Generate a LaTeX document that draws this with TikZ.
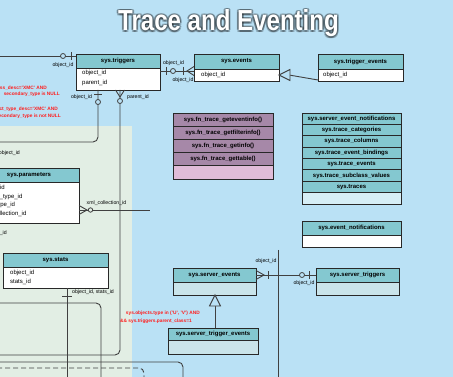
\documentclass[tikz,border=0pt]{standalone}
\usepackage{fontspec}
\setmainfont{Liberation Sans}
\usetikzlibrary{calc}
\definecolor{bgc}{RGB}{186,225,245}
\definecolor{grn}{RGB}{226,238,228}
\definecolor{teal}{RGB}{132,200,208}
\definecolor{lbody}{RGB}{202,228,234}
\definecolor{purp}{RGB}{166,136,168}
\definecolor{pink}{RGB}{224,188,216}
\definecolor{lastrow}{RGB}{214,238,246}
\definecolor{bdr}{RGB}{40,40,40}
\definecolor{linec}{RGB}{64,64,64}
\definecolor{redc}{RGB}{255,30,30}
\tikzset{
  hdr/.style={draw=bdr, line width=0.9pt, fill=teal, inner sep=0pt, outer sep=0pt, anchor=north west, font=\fontsize{6}{7}\selectfont\bfseries},
  bodybox/.style={draw=bdr, line width=0.9pt, fill=white, inner sep=0pt, outer sep=0pt, anchor=north west},
  fld/.style={anchor=west, inner sep=0pt, font=\fontsize{6}{7}\selectfont},
  lbl/.style={inner sep=0pt, font=\fontsize{5.2}{6}\selectfont},
  redt/.style={inner sep=0pt, text=redc, font=\fontsize{4.8}{5.6}\selectfont\bfseries},
  conn/.style={draw=linec, line width=0.9pt},
  oc/.style={draw=linec, line width=0.8pt, fill=bgc},
  ocg/.style={draw=linec, line width=0.8pt, fill=grn},
  tri/.style={draw=linec, line width=0.9pt, fill=bgc},
  ttl/.style={inner sep=0pt, anchor=base, xscale=0.83, font=\fontsize{29}{30}\selectfont\bfseries}
}
\begin{document}
\begin{tikzpicture}[x=1pt,y=-1pt]
\useasboundingbox (0,0) rectangle (453,377);
\clip (0,0) rectangle (453,377);
\fill[bgc] (-2,-2) rectangle (455,379);
\fill[grn] (-2,126) rectangle (132,379);

% title
\foreach \a in {0,45,...,315}{
  \node[ttl, text=black, opacity=0.22] at ($(228.5,31)+(\a:1.8)$) {Trace and Eventing};
}
\node[ttl, text=white] (title) at (228.5,31) {Trace and Eventing};

% sys.triggers
\node[hdr, minimum width=84pt, minimum height=14pt] (trig) at (76,54) {sys.triggers};
\node[bodybox, minimum width=84pt, minimum height=22pt] (trigb) at (76,68) {};
\node[fld] (trigf1) at (82,73) {object\_id};
\node[fld] (trigf2) at (82,83) {parent\_id};

% sys.events
\node[hdr, minimum width=85pt, minimum height=15pt] (evt) at (194,54) {sys.events};
\node[bodybox, minimum width=85pt, minimum height=12pt] (evtb) at (194,69) {};
\node[fld] (evtf1) at (201,75) {object\_id};

% sys.trigger_events
\node[hdr, minimum width=85pt, minimum height=15pt] (tev) at (318,54) {sys.trigger\_events};
\node[bodybox, minimum width=85pt, minimum height=12pt] (tevb) at (318,69) {};
\node[fld] (tevf1) at (323,75) {object\_id};

% functions
\foreach \t [count=\i from 0] in {sys.fn\_trace\_geteventinfo(),sys.fn\_trace\_getfilterinfo(),sys.fn\_trace\_getinfo(),sys.fn\_trace\_gettable()}{
  \node[hdr, fill=purp, minimum width=100pt, minimum height=13.2pt] (fn\i) at (173,113+13.2*\i) {\t};
}
\node[bodybox, fill=pink, minimum width=100pt, minimum height=13.2pt] (fn4) at (173,165.8) {};

% list table
\foreach \t [count=\i from 0] in {sys.server\_event\_notifications,sys.trace\_categories,sys.trace\_columns,sys.trace\_event\_bindings,sys.trace\_events,sys.trace\_subclass\_values,sys.traces}{
  \node[hdr, minimum width=99pt, minimum height=11.375pt] (ls\i) at (302,113+11.375*\i) {\t};
}
\node[bodybox, fill=lastrow, minimum width=99pt, minimum height=11.4pt] (ls7) at (302,192.6) {};

% sys.event_notifications
\node[hdr, minimum width=99pt, minimum height=14pt] (evn) at (302,221) {sys.event\_notifications};
\node[bodybox, minimum width=99pt, minimum height=12pt] (evnb) at (302,235) {};

% sys.parameters
\node[bodybox, minimum width=104pt, minimum height=41pt] (parb) at (-25,182) {};
\node[hdr, minimum width=104pt, minimum height=14pt] (par) at (-25,168) {};
\node[inner sep=0pt, font=\fontsize{6}{7}\selectfont\bfseries] (part) at (29,175) {sys.parameters};
\node[fld] (parf1) at (-19.5,188) {object\_id};
\node[fld] (parf2) at (-19.5,197) {system\_type\_id};
\node[fld] (parf3) at (-19.5,205) {user\_type\_id};
\node[fld] (parf4) at (-19.5,214) {xml\_collection\_id};

% sys.stats
\node[hdr, minimum width=105pt, minimum height=14pt] (sts) at (3,253) {sys.stats};
\node[bodybox, minimum width=105pt, minimum height=21pt] (stsb) at (3,267) {};
\node[fld] (stsf1) at (10,273) {object\_id};
\node[fld] (stsf2) at (10,282) {stats\_id};

% server events
\node[hdr, minimum width=83pt, minimum height=14pt] (sev) at (173,268) {sys.server\_events};
\node[bodybox, fill=lbody, minimum width=83pt, minimum height=13pt] (sevb) at (173,282) {};
\node[hdr, minimum width=83pt, minimum height=14pt] (strg) at (316,268) {sys.server\_triggers};
\node[bodybox, fill=lbody, minimum width=83pt, minimum height=13pt] (strgb) at (316,282) {};
\node[hdr, minimum width=90pt, minimum height=12pt] (stev) at (168,328) {sys.server\_trigger\_events};
\node[bodybox, fill=lbody, minimum width=90pt, minimum height=14pt] (stevb) at (168,340) {};

% free-end coordinates
\coordinate (lfree) at (-3,56);
\coordinate (objfree) at (-3,142);
\coordinate (parfree) at (-3,355);
\coordinate (xmlfree) at (150,210);
\coordinate (stsfree) at (67,379);
\coordinate (g1a) at (-3,303); \coordinate (g1b) at (101,379);
\coordinate (g2a) at (-3,362); \coordinate (g2b) at (183,379);
\coordinate (g3a) at (-3,368); \coordinate (g3b) at (144,379);
\coordinate (v1a) at (278,250); \coordinate (v1b) at (278,379);

% connectors
\draw[conn] (lfree) -- ([yshift=-2pt]trig.north west);
\draw[conn] (71,52) -- (71,60);
\draw[oc] (63,56) circle (2.5);

\draw[conn] ([yshift=-3pt]trigb.north east) -- ([yshift=-2pt]evtb.north west);
\draw[conn] (166,67) -- (166,75);
\draw[oc] (173,71) circle (2.5);
\draw[conn] (183,67) -- (183,75);
\draw[conn] (194,66.5) -- (187,71) -- (194,75.5);

\draw[conn, rounded corners=5pt] ([xshift=22pt]trigb.south west) |- (objfree);
\draw[conn] (94,94) -- (102,94);
\draw[oc] (98,102) circle (2.5);

\draw[conn, rounded corners=5pt] ([xshift=44pt]trigb.south west) -- (120,355) -- (parfree);
\draw[conn] (115.5,90) -- (120,97) -- (124.5,90);
\draw[oc] (120,101) circle (2.5);

\draw[conn] ([yshift=-5pt]tevb.west) -- ([xshift=10pt,yshift=-0pt]evtb.east |- 0,75);
\draw[tri] ([yshift=0pt]evtb.east |- 0,75) -- (290,69.5) -- (290,80.5) -- cycle;

\draw[conn] (parb.east |- 0,210) -- (xmlfree);
\draw[conn] (79,205.5) -- (87,210) -- (79,214.5);
\draw[ocg] (90.5,210) circle (2.2);

\draw[conn] ([xshift=64pt]stsb.south west) -- (stsfree);
\draw[conn] (62,296) -- (72,296);

\draw[conn, rounded corners=5pt] (g1a) -| (g1b);
\draw[conn, rounded corners=5pt] (g2a) -| (g2b);
\draw[conn, dashed, dash pattern=on 5pt off 3pt, rounded corners=5pt] (g3a) -| (g3b);
\draw[conn] (v1a) -- (v1b);

\draw[conn] ([yshift=-7pt]sev.north east) -- ([yshift=-7pt]strg.north west);
\draw[conn] (256,270.5) -- (264,275) -- (256,279.5);
\draw[conn] (268.5,271) -- (268.5,279);
\draw[oc] (302,275) circle (2.5);
\draw[conn] (309,271) -- (309,279);

\draw[conn] ([xshift=47pt]stev.north west) -- (215,306);
\draw[tri] ([xshift=42pt]sevb.south west) -- (209.5,306) -- (220.5,306) -- cycle;

% labels
\node[lbl] (l1) at (63,65) {object\_id};
\node[lbl] (l2) at (173.5,63) {object\_id};
\node[lbl] (l3) at (183,80) {object\_id};
\node[lbl] (l4) at (81.5,97) {object\_id};
\node[lbl] (l5) at (138,97) {parent\_id};
\node[lbl, anchor=east] (l6) at (20,153) {object\_id};
\node[lbl] (l7) at (106.5,203) {xml\_collection\_id};
\node[lbl, anchor=east] (l8) at (7,233) {object\_id};
\node[lbl, anchor=west] (l9) at (72,292) {object\_id, stats\_id};
\node[lbl] (l10) at (266,261) {object\_id};
\node[lbl] (l11) at (304,283) {object\_id};

% red notes
\node[redt, anchor=east] (r1) at (47,88) {parent\_class\_desc='XMC' AND};
\node[redt, anchor=east] (r2) at (60,94) {secondary\_type is NULL};
\node[redt, anchor=east] (r3) at (58,109) {object\_type\_desc='XMC' AND};
\node[redt, anchor=east] (r4) at (61,116) {secondary\_type is not NULL};
\node[redt, anchor=east] (r5) at (200,313) {sys.objects.type in ('U', 'V') AND};
\node[redt, anchor=east] (r6) at (192,321) {\&\& sys.triggers.parent\_class=1};
\end{tikzpicture}
\end{document}
